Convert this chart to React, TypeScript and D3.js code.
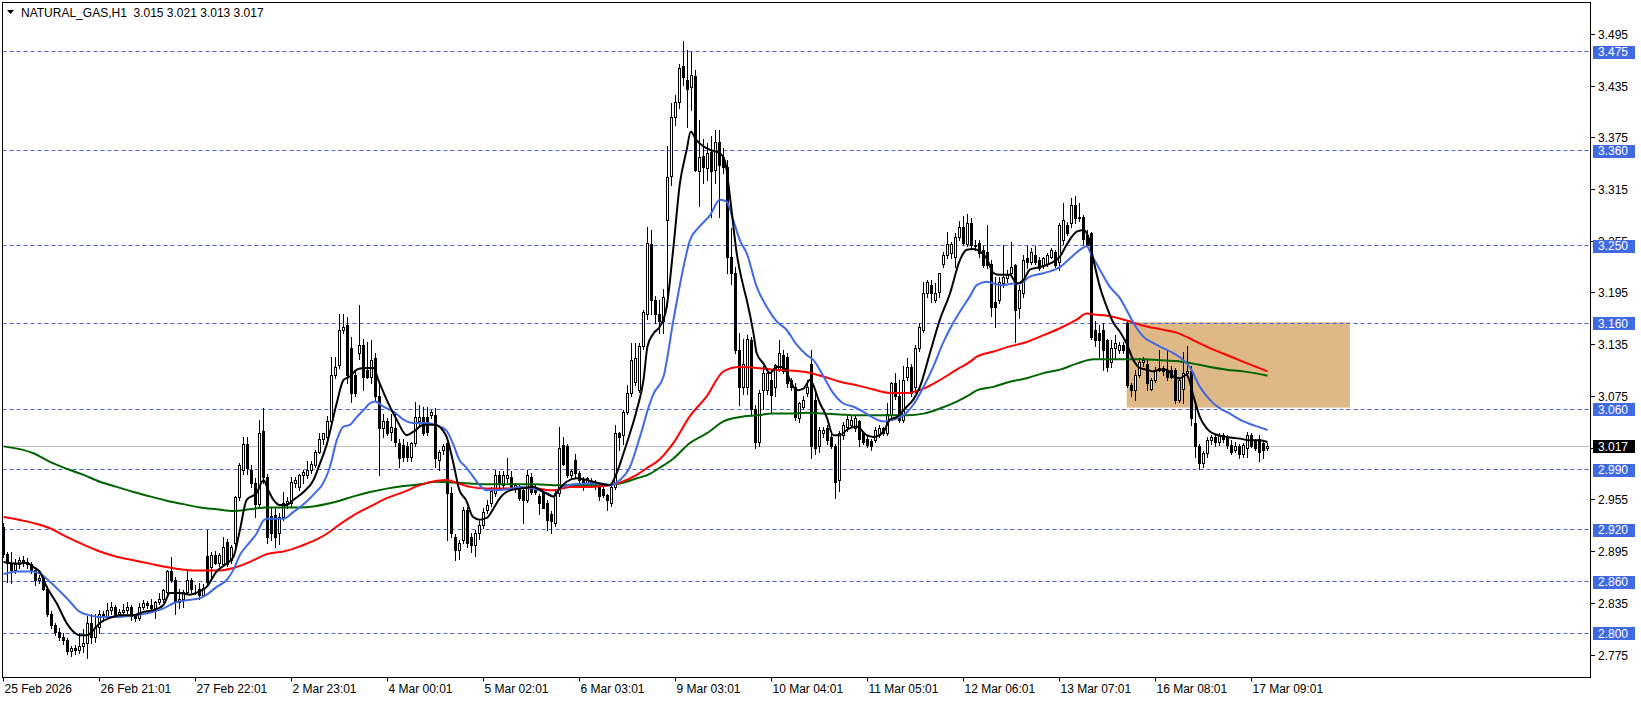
import React from "react";
import * as d3 from "d3";

const titleText = "NATURAL_GAS,H1  3.015 3.021 3.013 3.017";

const timeLabels = ["25 Feb 2026", "26 Feb 21:01", "27 Feb 22:01", "2 Mar 23:01", "4 Mar 00:01", "5 Mar 02:01", "6 Mar 03:01", "9 Mar 03:01", "10 Mar 04:01", "11 Mar 05:01", "12 Mar 06:01", "13 Mar 07:01", "16 Mar 08:01", "17 Mar 09:01"];
const barsPerLabel = 24;

const priceTicks = [2.775, 2.835, 2.895, 2.955, 3.015, 3.075, 3.135, 3.195, 3.255, 3.315, 3.375, 3.435, 3.495];
const levelLines = [3.475, 3.36, 3.25, 3.16, 3.06, 2.99, 2.92, 2.86, 2.8];
const lastPrice = 3.017;
const zoneBars = [280.8, 336.6];
const zonePrices = [3.062, 3.161];

const opens = [
2.924,2.892,2.882,2.874,2.881,2.885,2.883,2.880,2.874,2.862,2.864,2.852,2.823,2.810,2.802,2.796,2.792,2.780,2.783,2.781,
2.786,2.789,2.812,2.796,2.808,2.823,2.820,2.827,2.831,2.823,2.825,2.827,2.831,2.820,2.818,2.831,2.835,2.833,2.829,2.836,
2.840,2.848,2.872,2.862,2.836,2.840,2.848,2.862,2.851,2.852,2.845,2.890,2.877,2.891,2.882,2.881,2.906,2.885,2.905,2.958,
2.990,3.020,2.990,2.974,2.950,3.035,2.982,2.936,2.937,2.916,2.935,2.951,2.951,2.975,2.970,2.984,2.984,2.990,2.995,3.011,
3.026,3.028,3.046,3.100,3.111,3.152,3.158,3.131,3.100,3.125,3.135,3.106,3.098,3.119,3.075,3.038,3.046,3.034,3.038,3.021,
3.019,3.017,3.005,3.021,3.046,3.051,3.051,3.053,3.053,3.001,3.013,3.021,2.963,2.912,2.897,2.908,2.943,2.912,2.903,2.916,
2.926,2.943,2.951,2.963,2.984,2.972,2.980,2.982,2.968,2.968,2.966,2.955,2.982,2.966,2.959,2.963,2.951,2.939,2.928,2.963,
3.019,3.017,2.984,3.001,2.986,2.978,2.974,2.976,2.974,2.970,2.968,2.961,2.951,2.970,3.032,3.030,3.057,3.079,3.092,3.082,
3.133,3.171,3.252,3.187,3.171,3.162,3.280,3.331,3.399,3.416,3.458,3.442,3.434,3.447,3.336,3.354,3.340,3.358,3.338,3.370,
3.353,3.341,3.237,3.218,3.129,3.086,3.086,3.140,3.060,3.022,3.082,3.082,3.094,3.086,3.106,3.123,3.121,3.094,3.086,3.050,
3.063,3.079,3.113,3.071,3.017,3.032,3.038,3.028,3.018,2.978,3.030,3.040,3.042,3.038,3.046,3.032,3.026,3.023,3.024,3.030,
3.038,3.032,3.053,3.090,3.075,3.048,3.098,3.109,3.086,3.131,3.152,3.195,3.204,3.187,3.196,3.229,3.239,3.241,3.237,3.260,
3.272,3.252,3.276,3.251,3.253,3.245,3.243,3.229,3.185,3.187,3.206,3.212,3.218,3.227,3.177,3.195,3.235,3.231,3.239,3.233,
3.227,3.229,3.237,3.243,3.231,3.256,3.274,3.276,3.297,3.282,3.283,3.262,3.264,3.152,3.148,3.152,3.140,3.115,3.131,3.129,
3.135,3.160,3.088,3.082,3.100,3.115,3.113,3.084,3.094,3.106,3.108,3.106,3.106,3.106,3.071,3.084,3.102,3.104,3.044,3.017,
2.998,3.009,3.024,3.028,3.022,3.030,3.028,3.019,3.013,3.018,3.008,3.015,3.030,3.024,3.026,3.021,3.015];

const highs = [
2.928,2.895,2.894,2.886,2.889,2.890,2.888,2.883,2.876,2.868,2.866,2.855,2.826,2.812,2.806,2.800,2.795,2.786,2.787,2.800,
2.805,2.820,2.823,2.823,2.827,2.826,2.835,2.837,2.833,2.828,2.834,2.836,2.833,2.823,2.835,2.839,2.838,2.840,2.838,2.847,
2.852,2.874,2.889,2.866,2.852,2.850,2.875,2.864,2.856,2.858,2.857,2.920,2.895,2.896,2.893,2.912,2.910,2.903,2.960,2.998,
3.028,3.028,2.995,2.980,3.048,3.061,2.985,2.945,2.945,2.940,2.964,2.958,2.982,2.982,2.985,2.990,3.000,3.000,3.013,3.032,
3.033,3.052,3.121,3.121,3.171,3.171,3.167,3.144,3.106,3.181,3.142,3.138,3.140,3.125,3.092,3.055,3.050,3.055,3.055,3.025,
3.025,3.022,3.022,3.069,3.065,3.063,3.063,3.059,3.061,3.013,3.020,3.024,2.970,2.915,2.908,2.947,2.947,2.916,2.920,2.930,
2.945,2.955,2.970,2.990,2.988,2.988,3.003,2.988,2.975,2.972,2.970,2.990,2.986,2.972,2.962,2.966,2.955,2.942,2.965,3.040,
3.028,3.020,2.990,3.008,2.988,2.982,2.982,2.980,2.978,2.972,2.970,2.962,2.972,3.042,3.034,3.059,3.088,3.137,3.137,3.137,
3.175,3.272,3.268,3.192,3.187,3.200,3.365,3.415,3.425,3.460,3.487,3.477,3.475,3.454,3.396,3.374,3.369,3.377,3.384,3.384,
3.363,3.349,3.270,3.225,3.148,3.142,3.146,3.144,3.065,3.082,3.110,3.108,3.107,3.113,3.140,3.129,3.125,3.096,3.090,3.069,
3.076,3.094,3.129,3.082,3.040,3.040,3.042,3.032,3.020,3.035,3.045,3.052,3.052,3.053,3.048,3.034,3.030,3.025,3.040,3.042,
3.040,3.067,3.092,3.102,3.094,3.110,3.119,3.112,3.135,3.160,3.208,3.210,3.210,3.206,3.218,3.243,3.266,3.254,3.264,3.278,
3.284,3.286,3.282,3.256,3.256,3.250,3.274,3.233,3.214,3.214,3.251,3.222,3.254,3.229,3.204,3.239,3.249,3.247,3.249,3.237,
3.237,3.241,3.247,3.245,3.276,3.299,3.277,3.305,3.307,3.299,3.285,3.268,3.266,3.162,3.158,3.160,3.142,3.140,3.146,3.138,
3.138,3.162,3.090,3.106,3.119,3.121,3.117,3.096,3.109,3.129,3.110,3.129,3.110,3.108,3.096,3.127,3.133,3.110,3.065,3.020,
3.012,3.028,3.030,3.030,3.032,3.032,3.030,3.024,3.022,3.020,3.021,3.034,3.033,3.026,3.030,3.024,3.021];

const lows = [
2.889,2.860,2.858,2.870,2.876,2.878,2.876,2.870,2.856,2.858,2.850,2.820,2.806,2.798,2.792,2.788,2.776,2.774,2.776,2.777,
2.778,2.772,2.789,2.790,2.800,2.816,2.818,2.822,2.820,2.819,2.822,2.824,2.816,2.815,2.816,2.828,2.830,2.826,2.818,2.834,
2.836,2.845,2.860,2.823,2.830,2.831,2.846,2.848,2.846,2.840,2.843,2.856,2.862,2.880,2.878,2.880,2.878,2.882,2.900,2.955,
2.985,2.985,2.970,2.935,2.945,2.975,2.905,2.908,2.900,2.904,2.932,2.945,2.948,2.970,2.966,2.975,2.980,2.986,2.993,3.009,
3.020,3.022,3.044,3.096,3.108,3.148,3.090,3.069,3.075,3.118,3.082,3.096,3.090,3.071,2.984,3.028,3.030,3.024,3.017,2.993,
3.000,3.000,3.000,3.018,3.040,3.030,3.030,3.050,2.993,2.990,3.008,2.908,2.912,2.885,2.886,2.905,2.900,2.895,2.890,2.910,
2.922,2.940,2.948,2.960,2.970,2.968,2.976,2.968,2.964,2.955,2.928,2.952,2.962,2.962,2.939,2.945,2.920,2.916,2.925,2.960,
2.995,2.982,2.980,2.982,2.976,2.966,2.970,2.970,2.968,2.955,2.958,2.943,2.948,2.968,3.013,3.020,3.055,3.075,3.088,3.080,
3.130,3.165,3.170,3.160,3.148,3.148,3.180,3.320,3.390,3.410,3.436,3.388,3.407,3.336,3.296,3.322,3.326,3.283,3.322,3.283,
3.334,3.218,3.205,3.125,3.065,3.078,3.078,3.055,3.015,3.017,3.060,3.078,3.057,3.075,3.104,3.102,3.086,3.082,3.048,3.045,
3.060,3.075,3.003,3.008,3.010,3.028,3.020,3.015,2.957,2.965,3.025,3.035,3.040,3.035,3.018,3.020,3.016,3.013,3.022,3.028,
3.030,3.030,3.050,3.072,3.045,3.045,3.094,3.075,3.080,3.128,3.150,3.190,3.185,3.185,3.190,3.225,3.235,3.236,3.225,3.256,
3.252,3.250,3.247,3.245,3.237,3.225,3.224,3.168,3.156,3.183,3.202,3.208,3.214,3.138,3.166,3.190,3.224,3.228,3.228,3.222,
3.224,3.226,3.235,3.225,3.222,3.252,3.262,3.272,3.276,3.278,3.252,3.249,3.142,3.133,3.121,3.106,3.104,3.109,3.120,3.125,
3.125,3.086,3.075,3.071,3.098,3.110,3.082,3.082,3.092,3.104,3.100,3.094,3.096,3.067,3.069,3.067,3.098,3.042,3.005,2.991,
2.993,3.005,3.020,3.018,3.019,3.022,3.015,3.008,3.010,3.004,3.005,3.005,3.016,3.013,3.000,3.004,3.013];

const closes = [
2.892,2.882,2.874,2.881,2.885,2.883,2.880,2.874,2.862,2.864,2.852,2.823,2.810,2.802,2.796,2.792,2.780,2.783,2.781,2.786,
2.789,2.812,2.796,2.808,2.823,2.820,2.827,2.831,2.823,2.825,2.827,2.831,2.820,2.818,2.831,2.835,2.833,2.829,2.836,2.840,
2.850,2.872,2.862,2.836,2.840,2.848,2.862,2.851,2.852,2.845,2.853,2.860,2.891,2.882,2.891,2.900,2.881,2.900,2.958,2.995,
3.020,2.992,2.974,2.950,3.032,2.982,2.912,2.916,2.912,2.935,2.951,2.954,2.976,2.978,2.984,2.987,2.990,2.997,3.011,3.026,
3.032,3.046,3.100,3.109,3.152,3.156,3.100,3.079,3.079,3.135,3.098,3.098,3.117,3.075,3.038,3.046,3.032,3.040,3.022,3.003,
3.005,3.005,3.021,3.051,3.051,3.032,3.034,3.057,3.003,3.011,3.017,2.963,2.916,2.897,2.905,2.943,2.905,2.903,2.916,2.926,
2.941,2.949,2.965,2.984,2.974,2.984,2.984,2.970,2.972,2.957,2.955,2.984,2.964,2.964,2.951,2.945,2.932,2.930,2.963,3.015,
2.997,2.984,2.988,2.986,2.978,2.970,2.980,2.972,2.974,2.959,2.961,2.955,2.970,3.032,3.028,3.057,3.079,3.117,3.119,3.133,
3.173,3.253,3.187,3.171,3.162,3.190,3.330,3.399,3.416,3.456,3.445,3.431,3.448,3.338,3.353,3.341,3.357,3.336,3.370,3.343,
3.341,3.237,3.218,3.129,3.086,3.113,3.142,3.060,3.022,3.079,3.102,3.102,3.077,3.111,3.125,3.104,3.090,3.086,3.051,3.067,
3.071,3.086,3.017,3.015,3.036,3.036,3.024,3.018,2.976,3.032,3.042,3.049,3.048,3.050,3.026,3.022,3.019,3.017,3.036,3.038,
3.032,3.055,3.090,3.075,3.048,3.094,3.109,3.079,3.131,3.156,3.195,3.208,3.195,3.195,3.218,3.239,3.252,3.252,3.260,3.272,
3.253,3.276,3.251,3.249,3.241,3.227,3.227,3.179,3.179,3.208,3.214,3.216,3.225,3.175,3.198,3.233,3.231,3.243,3.231,3.224,
3.235,3.239,3.245,3.227,3.274,3.280,3.264,3.297,3.282,3.283,3.258,3.251,3.144,3.140,3.140,3.129,3.109,3.131,3.137,3.135,
3.129,3.088,3.082,3.100,3.115,3.117,3.090,3.094,3.106,3.108,3.104,3.098,3.098,3.071,3.094,3.102,3.104,3.050,3.017,2.998,
3.009,3.024,3.028,3.022,3.030,3.026,3.019,3.011,3.018,3.008,3.019,3.030,3.018,3.015,3.011,3.013,3.017];

// moving averages: [bar, price]
const maBlack: [number, number][] = [
[0,2.883],[3.3,2.881],[5.8,2.882],[7.5,2.877],[9,2.872],[10.8,2.854],[13.3,2.835],[15.8,2.812],[17.5,2.802],[19.1,2.798],[20.8,2.798],[22.5,2.804],[24.1,2.812],[26.6,2.818],[29.1,2.821],[32.5,2.821],[35,2.825],[37.5,2.827],[40,2.833],[41.6,2.847],[44.1,2.847],[46.6,2.845],[49.1,2.849],[50.8,2.854],[53.3,2.872],[55.8,2.881],[57.5,2.889],[59.1,2.920],[60.8,2.955],[63.3,2.963],[65,2.978],[66.2,2.966],[67.5,2.955],[69.1,2.949],[70.8,2.949],[72.5,2.955],[75,2.964],[77.5,2.978],[79.1,2.997],[80.8,3.019],[83.3,3.067],[85,3.094],[86.6,3.098],[88.3,3.106],[90,3.108],[92.5,3.108],[93.7,3.094],[95.8,3.071],[98.3,3.048],[100.8,3.030],[102.5,3.034],[105,3.042],[107.8,3.042],[110.6,3.030],[112.3,3.001],[114,2.966],[115.6,2.955],[117.4,2.935],[119,2.932],[120.8,2.934],[122.5,2.945],[124.1,2.957],[126.6,2.966],[129.1,2.968],[132.5,2.970],[135,2.964],[137.5,2.959],[139,2.968],[140.8,2.976],[143.3,2.980],[145.8,2.978],[149.1,2.974],[151.6,2.972],[153.3,2.986],[155,3.009],[156.6,3.032],[158.3,3.059],[160,3.094],[161,3.133],[162.5,3.148],[164.1,3.156],[165.8,3.179],[167.5,3.249],[169.1,3.322],[170.8,3.361],[171.8,3.382],[173.3,3.372],[175,3.365],[176.6,3.361],[179.1,3.357],[180.4,3.347],[181.6,3.307],[183.3,3.241],[185,3.202],[185.8,3.187],[187.5,3.148],[188.3,3.125],[190,3.113],[191.6,3.102],[193.3,3.109],[195,3.109],[196.6,3.094],[198.3,3.082],[200,3.084],[201.6,3.094],[204.1,3.067],[205.8,3.051],[207.4,3.030],[209.1,3.030],[210.8,3.036],[213.3,3.040],[215.8,3.030],[217.5,3.028],[220,3.034],[221.6,3.048],[223.3,3.051],[225.8,3.063],[227.4,3.071],[229.1,3.086],[231.6,3.125],[234.1,3.164],[236.6,3.194],[239.1,3.233],[240.8,3.245],[242.5,3.246],[244.1,3.243],[245.8,3.235],[247.5,3.218],[249.1,3.216],[251.6,3.216],[253.3,3.206],[255,3.210],[256.6,3.222],[259.1,3.225],[261.6,3.229],[264.1,3.237],[265.8,3.251],[268.3,3.266],[270,3.268],[271.2,3.260],[272.5,3.233],[274.1,3.202],[275.8,3.179],[277.5,3.160],[279.1,3.150],[280.8,3.136],[282.5,3.117],[284.1,3.108],[285.8,3.106],[287.4,3.104],[289.1,3.106],[290.8,3.106],[292.5,3.098],[294.1,3.096],[295.8,3.100],[297.5,3.075],[299.1,3.051],[300.8,3.038],[302.4,3.032],[305.8,3.028],[309.1,3.026],[311.6,3.024],[314.1,3.024],[316,3.022]];

const maBlue: [number, number][] = [
[0,2.869],[3.3,2.872],[7.5,2.872],[9,2.870],[11.6,2.860],[15.8,2.841],[19.1,2.825],[21.6,2.821],[24.1,2.819],[28.3,2.819],[32.5,2.821],[36.6,2.824],[40,2.829],[42.5,2.835],[45,2.838],[49.1,2.841],[50.8,2.845],[53.3,2.854],[55.8,2.862],[57.5,2.874],[59.1,2.891],[61.6,2.906],[63.3,2.916],[65,2.931],[65.8,2.933],[70,2.933],[72.5,2.941],[75.8,2.953],[78.3,2.965],[79.6,2.972],[81.6,2.993],[83.3,3.024],[85,3.040],[86.6,3.042],[88.3,3.051],[90,3.059],[91.6,3.067],[92.9,3.069],[95,3.063],[97.6,3.057],[100,3.048],[102.5,3.044],[105.8,3.044],[107.9,3.042],[110.6,3.036],[112.3,3.021],[114,3.001],[115.6,2.993],[117.4,2.982],[119,2.972],[120.8,2.966],[122.5,2.966],[126.6,2.968],[129.1,2.970],[132.5,2.968],[135.8,2.963],[137.5,2.959],[139,2.968],[142.4,2.973],[145.8,2.974],[149.1,2.974],[151.6,2.972],[154.1,2.978],[156.6,2.993],[159.1,3.028],[161.6,3.067],[162.5,3.078],[165,3.098],[167.5,3.164],[170,3.225],[171.6,3.256],[174,3.272],[176.6,3.285],[179.1,3.303],[180.8,3.301],[182.4,3.280],[184.1,3.256],[185.8,3.241],[188.3,3.202],[190.8,3.179],[193.3,3.162],[195.8,3.152],[198.3,3.135],[200.8,3.123],[202.5,3.117],[205,3.098],[207.4,3.079],[209.9,3.067],[212.5,3.063],[215,3.057],[217.5,3.050],[220,3.046],[222.5,3.048],[225,3.053],[227.4,3.065],[230,3.086],[232.4,3.109],[234.9,3.137],[237.4,3.160],[239.9,3.179],[241.6,3.191],[243.3,3.204],[245.8,3.208],[247.5,3.206],[250,3.204],[252.5,3.206],[254.1,3.206],[256.6,3.214],[259.1,3.217],[261.6,3.220],[264.1,3.225],[266.6,3.235],[269.1,3.245],[270.8,3.249],[272,3.239],[274.1,3.222],[276.6,3.202],[279.1,3.189],[280.8,3.175],[282.5,3.160],[285,3.144],[287.4,3.137],[289.9,3.131],[292.5,3.125],[295,3.117],[296.6,3.109],[299.1,3.086],[301.6,3.071],[304.1,3.061],[306.6,3.055],[309.1,3.048],[311.6,3.043],[314.1,3.039],[316,3.036]];

const maRed: [number, number][] = [
[0,2.935],[7.5,2.928],[11.6,2.922],[15.8,2.912],[20,2.903],[24.1,2.895],[28.3,2.889],[32.5,2.885],[36.6,2.881],[40.8,2.877],[45,2.874],[49.1,2.873],[53.3,2.873],[57.5,2.876],[61.6,2.883],[65.8,2.892],[70,2.895],[74.1,2.901],[78.3,2.909],[81.6,2.918],[83.3,2.924],[87.5,2.937],[91.6,2.947],[95.8,2.957],[100,2.964],[104.1,2.972],[108.3,2.977],[110.8,2.978],[112.5,2.976],[116.6,2.970],[120.8,2.968],[125,2.968],[129.1,2.969],[133.3,2.968],[137.5,2.966],[141.6,2.970],[145.8,2.970],[150,2.971],[154.1,2.975],[158.3,2.984],[161.6,2.994],[163.3,2.999],[167.5,3.021],[171.6,3.052],[175.8,3.075],[180,3.104],[184.1,3.109],[188.3,3.108],[192.5,3.106],[196.6,3.105],[200.8,3.103],[205,3.098],[209.1,3.092],[213.3,3.088],[217.5,3.083],[221.6,3.079],[225.8,3.079],[230,3.084],[234.1,3.094],[238.3,3.106],[241.6,3.115],[243.3,3.121],[247.5,3.127],[251.6,3.133],[255.8,3.138],[260,3.146],[264.1,3.154],[268.3,3.164],[270.8,3.171],[272.5,3.170],[276.6,3.168],[280.8,3.163],[285,3.157],[289.1,3.153],[293.3,3.149],[297.5,3.140],[301.6,3.131],[305.8,3.123],[310,3.115],[316,3.104]];

const maGreen: [number, number][] = [
[0,3.017],[7.5,3.009],[11.6,2.999],[15.8,2.991],[20,2.984],[24.1,2.976],[28.3,2.970],[32.5,2.964],[36.6,2.959],[40.8,2.954],[45,2.950],[49.1,2.946],[53.3,2.944],[57.5,2.942],[61.6,2.944],[65.8,2.946],[70,2.946],[74.1,2.946],[81.6,2.951],[83.3,2.953],[87.5,2.959],[91.6,2.964],[95.8,2.968],[100,2.971],[104.1,2.973],[108.3,2.976],[112.5,2.975],[116.6,2.974],[120.8,2.973],[125,2.973],[129.1,2.973],[133.3,2.973],[137.5,2.972],[141.6,2.972],[145.8,2.972],[150,2.972],[154.1,2.974],[158.3,2.980],[161.6,2.985],[163.3,2.990],[167.5,3.003],[171.6,3.021],[175.8,3.032],[180,3.046],[184.1,3.051],[188.3,3.053],[192.5,3.055],[196.6,3.055],[200.8,3.056],[205,3.055],[209.1,3.054],[213.3,3.053],[217.5,3.053],[221.6,3.053],[225.8,3.053],[230,3.055],[234.1,3.061],[238.3,3.069],[241.6,3.077],[243.3,3.082],[247.5,3.086],[251.6,3.092],[255.8,3.096],[260,3.102],[264.1,3.106],[268.3,3.113],[272.5,3.118],[276.6,3.118],[280.8,3.118],[285,3.118],[289.1,3.117],[293.3,3.116],[297.5,3.113],[301.6,3.109],[305.8,3.106],[310,3.104],[316,3.099]];

const FONT = "'Liberation Sans', Arial, sans-serif";
const LEVEL_BLUE = "#4169E1";

export default function App() {
  const W = 1641, H = 701;
  const left = 2.5, right = 1590.5, top = 2.5, bottom = 677.5;
  const n = closes.length;
  const x = d3.scaleLinear().domain([0, n - 1]).range([3.5, 3.5 + 4 * (n - 1)]);
  const y = d3.scaleLinear().domain([2.775, 3.495]).range([655.0, 34.3]);
  const snap = (v: number) => Math.round(v - 0.5) + 0.5;

  const line = d3.line<[number, number]>()
    .x(d => x(d[0]))
    .y(d => y(d[1]))
    .curve(d3.curveMonotoneX);

  const candles = d3.range(n).map(i => {
    const o = opens[i], c = closes[i];
    const h = Math.max(highs[i], o, c), l = Math.min(lows[i], o, c);
    const cx = snap(x(i));
    const yT = Math.round(y(Math.max(o, c)));
    const yB = Math.round(y(Math.min(o, c)));
    const bull = c >= o;
    return (
      <g key={i}>
        <line x1={cx} x2={cx} y1={Math.round(y(h))} y2={Math.round(y(l)) + 1} stroke="#000" strokeWidth={1} />
        <rect x={cx - 1} y={yT + 0.5} width={2} height={Math.max(yB - yT, 0)} fill={bull ? "#fff" : "#000"} stroke="#000" strokeWidth={1} />
      </g>
    );
  });

  const axisX = 1591;
  return (
    <div style={{ position: "absolute", left: 0, top: 0, width: W, height: H, background: "#fff" }}>
      <svg width={W} height={H} style={{ display: "block" }} fontFamily={FONT}>
        <defs>
          <clipPath id="plotClip">
            <rect x={left} y={top} width={right - left} height={bottom - top} />
          </clipPath>
        </defs>
        <rect x={0} y={0} width={W} height={H} fill="#fff" />
        <g clipPath="url(#plotClip)">
          <rect x={x(zoneBars[0])} y={y(zonePrices[1])} width={x(zoneBars[1]) - x(zoneBars[0])} height={y(zonePrices[0]) - y(zonePrices[1])} fill="#DEB887" />
          {levelLines.map(v => (
            <line key={v} x1={left} x2={right} y1={snap(y(v))} y2={snap(y(v))} stroke={LEVEL_BLUE} strokeWidth={1} strokeDasharray="4,3" />
          ))}
          <line x1={left} x2={right} y1={snap(y(lastPrice))} y2={snap(y(lastPrice))} stroke="#C0C0C0" strokeWidth={1} />
          {candles}
          <path d={line(maGreen) || ""} fill="none" stroke="#006400" strokeWidth={2} />
          <path d={line(maRed) || ""} fill="none" stroke="#FF0000" strokeWidth={2} />
          <path d={line(maBlue) || ""} fill="none" stroke="#4169E1" strokeWidth={2} />
          <path d={line(maBlack) || ""} fill="none" stroke="#000" strokeWidth={2} />
        </g>
        {/* frame */}
        <rect x={left} y={top} width={right - left} height={bottom - top} fill="none" stroke="#000" strokeWidth={1} />
        {/* price axis ticks */}
        {priceTicks.map(v => (
          <g key={v}>
            <line x1={axisX} x2={axisX + 4} y1={snap(y(v))} y2={snap(y(v))} stroke="#000" />
            <text x={1598} y={y(v) + 4.5} fontSize={12} fill="#000">{v.toFixed(3)}</text>
          </g>
        ))}
        {levelLines.map(v => (
          <g key={"b" + v}>
            <rect x={1593} y={Math.round(y(v)) - 6} width={42} height={13} fill={LEVEL_BLUE} />
            <text x={1598} y={y(v) + 4.5} fontSize={12} fill="#fff">{v.toFixed(3)}</text>
          </g>
        ))}
        <rect x={1593} y={Math.round(y(lastPrice)) - 6} width={42} height={13} fill="#000" />
        <text x={1598} y={y(lastPrice) + 4.5} fontSize={12} fill="#fff">{lastPrice.toFixed(3)}</text>
        {/* time axis */}
        {timeLabels.map((t, k) => {
          const tx = snap(x(k * barsPerLabel));
          return (
            <g key={t}>
              <line x1={tx} x2={tx} y1={bottom} y2={bottom + 4} stroke="#000" />
              <text x={tx + 1} y={693} fontSize={12} fill="#000">{t}</text>
            </g>
          );
        })}
        {/* title */}
        <path d="M7,10 L14,10 L10.5,14 Z" fill="#000" />
        <text x={21} y={17} fontSize={12} fill="#000" style={{ whiteSpace: "pre" }}>{titleText}</text>
      </svg>
    </div>
  );
}
